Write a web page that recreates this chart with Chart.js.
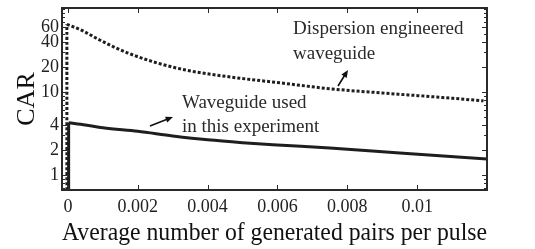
<!DOCTYPE html>
<html>
<head>
<meta charset="utf-8">
<script src="https://cdn.jsdelivr.net/npm/chart.js@4/dist/chart.umd.min.js"></script>
<style>
  html, body { margin: 0; padding: 0; background: #fff; }
  #wrap { width: 535px; height: 249px; }
</style>
</head>
<body>
<div id="wrap"><canvas id="myChart" width="535" height="249"></canvas></div>
<script>
// x ticks and y ticks (log)
const xTicks = [0, 0.002, 0.004, 0.006, 0.008, 0.01];
const yTicks = [1, 2, 4, 10, 20, 40, 60];

// waveguide used in this experiment (solid); null splits the rising edge from the decay
const expX = [0.00002, 0.00002, 0.00002, 0.00002, 0.0005, 0.001, 0.002, 0.003, 0.004, 0.005, 0.006, 0.0075, 0.0095, 0.012];
const expY = [0.5, 4.25, null, 4.25, 4.0, 3.7, 3.35, 2.95, 2.65, 2.45, 2.3, 2.11, 1.84, 1.56];

// dispersion engineered waveguide (dotted)
const engX = [-0.00003, -0.00003, -0.00003, -0.00003, 0.00043, 0.00091, 0.0017, 0.0026, 0.0034, 0.0047, 0.0061, 0.0075, 0.009, 0.0105, 0.0119];
const engY = [0.5, 65, null, 65, 54, 42, 29.5, 22, 18.2, 15, 12.8, 10.9, 9.7, 8.7, 7.8];

const serif = "'Liberation Serif', 'Times New Roman', serif";
const ink = '#1e1e1e';

function pts(xs, ys) {
  return xs.map((x, i) => ({ x: x, y: ys[i] }));
}

// frame, inward ticks, annotations
const framePlugin = {
  id: 'frame',
  afterDraw(chart) {
    const c = chart.ctx;
    const a = chart.chartArea;
    const xs = chart.scales.x, ys = chart.scales.y;
    c.save();
    c.strokeStyle = '#2a2a2a';
    c.lineWidth = 2;
    c.strokeRect(a.left, a.top, a.right - a.left, a.bottom - a.top);

    c.lineWidth = 1;
    xTicks.forEach(v => {
      const px = Math.round(xs.getPixelForValue(v)) + 0.5;
      c.beginPath();
      c.moveTo(px, a.bottom); c.lineTo(px, a.bottom - 5);
      c.moveTo(px, a.top); c.lineTo(px, a.top + 5);
      c.stroke();
    });
    for (let d = 0.1; d <= 100; d *= 10) {
      for (let m = 1; m <= 9; m++) {
        const v = m * d;
        if (v < ys.min || v > ys.max) continue;
        const py = Math.round(ys.getPixelForValue(v)) + 0.5;
        const len = yTicks.includes(Math.round(v * 100) / 100) ? 5 : 3;
        c.beginPath();
        c.moveTo(a.left, py); c.lineTo(a.left + len, py);
        c.moveTo(a.right, py); c.lineTo(a.right - len, py);
        c.stroke();
      }
    }

    c.fillStyle = '#2a2a2a';
    c.font = '19px ' + serif;
    c.textBaseline = 'alphabetic';
    c.fillText('Dispersion engineered', a.left + 231, 34);
    c.fillText('waveguide', a.left + 231, 59);
    c.fillText('Waveguide used', a.left + 120, 108);
    c.fillText('in this experiment', a.left + 120, 132);

    function arrow(x0, y0, x1, y1) {
      const ang = Math.atan2(y1 - y0, x1 - x0);
      c.strokeStyle = '#111';
      c.lineWidth = 1.6;
      c.beginPath();
      c.moveTo(x0, y0); c.lineTo(x1 - 5 * Math.cos(ang), y1 - 5 * Math.sin(ang));
      c.stroke();
      c.fillStyle = '#111';
      c.beginPath();
      c.moveTo(x1, y1);
      c.lineTo(x1 - 8 * Math.cos(ang - 0.4), y1 - 8 * Math.sin(ang - 0.4));
      c.lineTo(x1 - 8 * Math.cos(ang + 0.4), y1 - 8 * Math.sin(ang + 0.4));
      c.closePath();
      c.fill();
    }
    arrow(338, 86, 348, 70);
    arrow(150, 126, 173, 117);
    c.restore();
  }
};

const ctx = document.getElementById('myChart');
const myChart = new Chart(ctx, {
  type: 'line',
  data: {
    datasets: [
      {
        label: 'Dispersion engineered waveguide',
        data: pts(engX, engY),
        borderColor: ink,
        borderWidth: 3,
        borderDash: [3, 2],
        pointRadius: 0,
        cubicInterpolationMode: 'monotone',
        fill: false
      },
      {
        label: 'Waveguide used in this experiment',
        data: pts(expX, expY),
        borderColor: ink,
        borderWidth: 3,
        pointRadius: 0,
        cubicInterpolationMode: 'monotone',
        fill: false
      }
    ]
  },
  options: {
    responsive: false,
    animation: false,
    layout: { padding: { left: 0, top: 8, right: 48, bottom: 0 } },
    plugins: { legend: { display: false }, tooltip: { enabled: false } },
    scales: {
      x: {
        type: 'linear',
        min: -0.00017,
        max: 0.012,
        grid: { display: false, drawTicks: false },
        border: { display: false },
        afterBuildTicks: s => { s.ticks = xTicks.map(v => ({ value: v })); },
        afterFit: s => { s.height = 59; },
        ticks: {
          padding: 6,
          color: '#222',
          font: { family: serif, size: 18 },
          maxRotation: 0,
          callback: v => String(+v.toFixed(3))
        },
        title: {
          display: true,
          text: 'Average number of generated pairs per pulse',
          color: '#111',
          font: { family: serif, size: 26 },
          padding: { top: 0, bottom: 0 }
        }
      },
      y: {
        type: 'logarithmic',
        min: 0.66,
        max: 102,
        grid: { display: false, drawTicks: false },
        border: { display: false },
        afterBuildTicks: s => { s.ticks = yTicks.map(v => ({ value: v })); },
        afterFit: s => { s.width = 62; s.paddingTop = 0; s.paddingBottom = 0; },
        ticks: {
          padding: 3,
          color: '#222',
          font: { family: serif, size: 18 },
          autoSkip: false,
          callback: v => String(v)
        },
        title: {
          display: true,
          text: 'CAR',
          color: '#111',
          font: { family: serif, size: 26 },
          padding: { top: 12, bottom: 0 }
        }
      }
    }
  },
  plugins: [framePlugin]
});
</script>
</body>
</html>
